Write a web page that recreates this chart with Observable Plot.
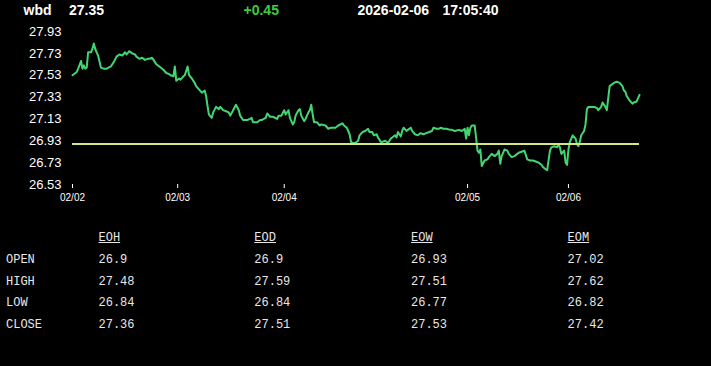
<!DOCTYPE html>
<html>
<head>
<meta charset="utf-8">
<script src="https://cdn.jsdelivr.net/npm/d3@7"></script>
<script src="https://cdn.jsdelivr.net/npm/@observablehq/plot@0.6"></script>
<style>
  html, body { margin: 0; padding: 0; background: #000; }
  #wrap { position: relative; width: 711px; height: 366px; background: #000; overflow: hidden; }
  .hd { position: absolute; top: 3px; font: bold 14px/14px Arial, "Liberation Sans", sans-serif; color: #fff; white-space: pre; }
  .tb { position: absolute; font: 12px/12px "Liberation Mono", "DejaVu Sans Mono", monospace; color: #e8e8e8; white-space: pre; }
  .tb.h { text-decoration: underline; }
  #chart { position: absolute; left: 0; top: 0; }
</style>
</head>
<body>
<div id="wrap"><div id="chart"></div></div>
<script>
// ---- header ----
const symbol = "wbd";
const lastPrice = "27.35";
const change = "+0.45";
const quoteDate = "2026-02-06";
const quoteTime = "17:05:40";
const prevClose = 26.90;

// ---- axes ----
const yTicks = [26.53, 26.73, 26.93, 27.13, 27.33, 27.53, 27.73, 27.93];
const dayStart = [0, 74, 149, 278, 349];
const dayLabel = ["02/02", "02/03", "02/04", "02/05", "02/06"];
const lastBar = 399;

// ---- intraday series (bar index, price) ----
const bar = [0,3,4,6,7,8,9,10,11,13,14,15,16,18,20,22,24,27,29,31,33,35,37,38,40,42,44,45,47,49,51,53,54,56,58,59,62,64,
66,68,69,71,72,73,75,76,78,79,81,82,84,86,87,89,91,93,94,95,96,98,99,101,103,104,106,108,110,111,113,115,117,118,120,123,125,126,127,130,132,
133,136,137,139,141,144,145,147,149,150,152,153,155,156,157,159,160,161,163,164,166,167,168,169,170,172,174,175,178,180,182,185,187,190,191,193,195,196,197,199,
201,202,204,206,208,209,211,212,214,215,217,218,220,222,224,225,227,228,229,231,232,233,235,236,238,239,241,243,245,247,249,251,253,254,256,258,259,261,263,266,
267,269,272,274,276,277,278,279,280,281,283,284,285,286,287,288,290,292,293,295,297,299,300,301,302,304,306,307,309,311,313,314,316,318,320,322,324,326,328,330,331,
333,334,336,337,339,341,342,343,344,346,347,348,349,350,352,354,355,356,357,358,360,361,362,363,365,367,369,370,372,373,375,376,378,380,381,383,385,387,388,389,390,392,394,395,397,399];
const price = [27.53,27.56,27.59,27.66,27.59,27.62,27.59,27.60,27.74,27.74,27.77,27.82,27.77,27.71,27.60,27.59,27.59,27.61,27.65,27.70,27.72,27.71,27.74,27.72,27.75,27.73,27.72,27.70,27.68,27.69,27.67,27.68,27.68,27.69,27.65,27.63,27.60,27.58,
27.55,27.54,27.53,27.52,27.61,27.48,27.50,27.49,27.52,27.53,27.61,27.53,27.50,27.46,27.43,27.40,27.37,27.39,27.34,27.25,27.17,27.14,27.19,27.24,27.22,27.24,27.21,27.20,27.19,27.16,27.21,27.26,27.21,27.16,27.12,27.12,27.13,27.14,27.10,27.10,27.12,
27.12,27.14,27.18,27.15,27.15,27.13,27.16,27.16,27.21,27.17,27.21,27.14,27.08,27.10,27.16,27.21,27.22,27.16,27.11,27.13,27.19,27.21,27.26,27.17,27.10,27.10,27.07,27.08,27.07,27.04,27.05,27.05,27.07,27.09,27.07,27.05,26.99,26.92,26.91,26.91,
26.93,26.98,27.01,27.02,27.04,27.01,27.01,26.98,26.99,26.96,26.92,26.92,26.93,26.91,26.95,26.96,26.98,26.96,27.01,26.97,27.02,27.05,27.02,27.03,27.05,27.02,26.99,26.98,27.00,26.99,27.00,27.01,27.02,27.05,27.04,27.04,27.05,27.04,27.04,27.03,
27.03,27.02,27.03,27.02,27.04,26.95,27.05,26.98,27.05,27.07,27.07,26.96,26.84,26.82,26.85,26.70,26.75,26.76,26.78,26.81,26.79,26.81,26.84,26.72,26.79,26.85,26.84,26.81,26.78,26.79,26.81,26.82,26.83,26.84,26.76,26.75,26.75,26.74,26.73,26.71,26.69,
26.67,26.66,26.84,26.87,26.88,26.87,26.90,26.87,26.81,26.84,26.73,26.71,26.85,26.92,26.98,26.95,26.90,26.88,26.92,26.98,27.02,27.08,27.22,27.24,27.24,27.24,27.23,27.21,27.24,27.28,27.24,27.21,27.43,27.45,27.46,27.47,27.46,27.43,27.39,27.38,27.34,27.30,27.27,27.28,27.29,27.35];

// ---- OHLC table ----
const periods = ["EOH", "EOD", "EOW", "EOM"];
const fields = ["OPEN", "HIGH", "LOW", "CLOSE"];
const openVals = [26.9, 26.9, 26.93, 27.02];
const highVals = [27.48, 27.59, 27.51, 27.62];
const lowVals = [26.84, 26.84, 26.77, 26.82];
const closeVals = [27.36, 27.51, 27.53, 27.42];

const data = bar.map((b, i) => ({bar: b, price: price[i]}));
const labelOf = new Map(dayStart.map((d, i) => [d, dayLabel[i]]));

const chart = Plot.plot({
  width: 711,
  height: 210,
  marginLeft: 72,
  marginRight: 72,
  marginTop: 31,
  marginBottom: 26,
  style: {background: "transparent", color: "#fff", fontFamily: "Arial, 'Liberation Sans', sans-serif", overflow: "visible"},
  x: {domain: [0, lastBar], axis: null},
  y: {domain: [yTicks[0], yTicks[yTicks.length - 1]], axis: null},
  marks: [
    Plot.axisY({ticks: yTicks, tickFormat: d => d.toFixed(2), tickSize: 0, tickPadding: 11, fontSize: 13, fill: "#fff", label: null}),
    Plot.axisX({ticks: dayStart, tickFormat: d => labelOf.get(d), tickSize: 4, tickPadding: 5, fontSize: 10, stroke: "#fff", fill: "#fff", label: null}),
    Plot.line(data, {x: "bar", y: "price", stroke: "#42d672", strokeWidth: 2}),
    Plot.ruleY([prevClose], {stroke: "#d4e67c", strokeWidth: 2})
  ]
});
document.getElementById("chart").appendChild(chart);

const wrap = document.getElementById("wrap");
function addText(cls, txt, left, top, color) {
  const s = document.createElement("div");
  s.className = cls;
  s.textContent = txt;
  s.style.left = left + "px";
  if (top !== null) s.style.top = top + "px";
  if (color) s.style.color = color;
  wrap.appendChild(s);
}
addText("hd", symbol, 23.5, null);
addText("hd", lastPrice, 69, null);
addText("hd", change, 243.5, null, "#3fcc3f");
addText("hd", quoteDate, 357.5, null);
addText("hd", quoteTime, 442.5, null);

const colX = [98.5, 254.3, 411, 567.6];
const rowTop = [232.2, 253.9, 275.6, 297.3, 319];
periods.forEach((p, j) => addText("tb h", p, colX[j], rowTop[0]));
const rows = [openVals, highVals, lowVals, closeVals];
fields.forEach((f, i) => {
  addText("tb", f, 6, rowTop[i + 1]);
  rows[i].forEach((v, j) => addText("tb", String(v), colX[j], rowTop[i + 1]));
});
</script>
</body>
</html>
